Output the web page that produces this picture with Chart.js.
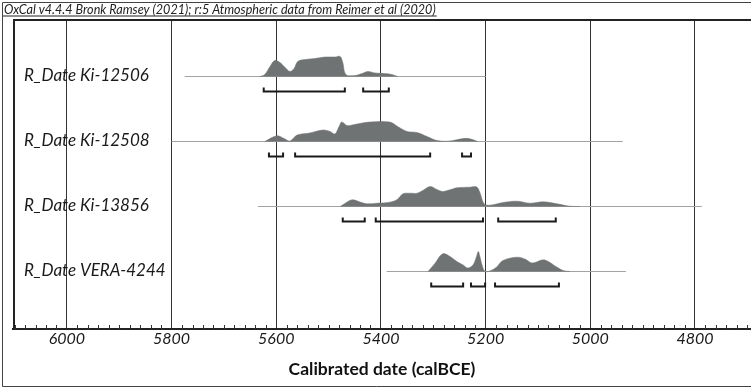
<!DOCTYPE html>
<html>
<head>
<meta charset="utf-8">
<script src="https://cdn.jsdelivr.net/npm/chart.js@4.4.0/dist/chart.umd.min.js"></script>
<style>
  html, body { margin: 0; padding: 0; background: #fff; }
  #wrap { width: 751px; height: 388px; position: relative; }
</style>
</head>
<body>
<div id="wrap"><canvas id="chart"></canvas></div>
<script>
// OxCal multiplot: calibrated R_Date distributions (years calBCE)
const plotTitle = 'OxCal v4.4.4 Bronk Ramsey (2021); r:5 Atmospheric data from Reimer et al (2020)';
const rowLabels = ['R_Date Ki-12506', 'R_Date Ki-12508', 'R_Date Ki-13856', 'R_Date VERA-4244'];

// extent of the thin baseline for each date
const rangeFrom = [5775, 5800, 5635, 5389];
const rangeTo = [5200, 4938, 4787, 4932];

// probability curves (year, relative height)
const yrs12506 = [5631, 5622, 5612, 5603, 5593, 5583, 5574, 5566, 5559, 5545, 5526, 5507, 5488, 5478, 5473, 5467, 5450, 5436, 5425, 5411, 5394, 5379, 5368];
const p12506 = [0, 2, 10, 16, 14, 9, 5, 8, 15, 17, 18, 19.5, 19.5, 20, 14, 2, 1, 3, 5, 3.5, 3, 2, 0];

const yrs12508 = [5622, 5599, 5585, 5574, 5560, 5536, 5511, 5497, 5488, 5480, 5475, 5465, 5455, 5446, 5421, 5383, 5368, 5350, 5331, 5312, 5293, 5268, 5243, 5230, 5215];
const p12508 = [0, 5.7, 3, 0.5, 6.5, 8.5, 11.5, 10, 7.5, 15, 19.5, 16, 16.5, 17.5, 19.5, 19.5, 15, 10, 9, 5, 1, 0.5, 3, 2.7, 0];

const yrs13856 = [5478, 5469, 5455, 5440, 5427, 5408, 5383, 5369, 5358, 5345, 5331, 5320, 5306, 5293, 5282, 5268, 5255, 5230, 5217, 5211, 5203, 5192, 5167, 5140, 5115, 5090, 5064, 5039, 5020];
const p13856 = [0, 3, 6.7, 4.5, 2.7, 3.3, 4.3, 7, 12.7, 13.3, 13.3, 16, 20, 17, 15, 16.7, 18.7, 19.3, 19.5, 14, 2.7, 1.3, 4, 5.3, 3.3, 4.7, 2.7, 0.3, 0];

const yrs4244 = [5310, 5297, 5282, 5268, 5255, 5243, 5234, 5224, 5218, 5214, 5211, 5206, 5201, 5192, 5180, 5167, 5140, 5125, 5111, 5090, 5077, 5068, 5052, 5039];
const p4244 = [0, 8, 17.7, 15, 10, 6.5, 3.5, 6.7, 14, 20, 15, 5, 0, 0.5, 4, 11, 14.3, 12.5, 8.5, 11.7, 9, 5.7, 1, 0];

// 95.4% ranges [from, to]
const hpd12506 = [[5624, 5469], [5434, 5385]];
const hpd12508 = [[5614, 5587], [5564, 5306], [5245, 5228]];
const hpd13856 = [[5473, 5431], [5410, 5205], [5176, 5066]];
const hpd4244 = [[5304, 5243], [5228, 5201], [5182, 5060]];

// axis ticks
const xTicks = [4800, 5000, 5200, 5400, 5600, 5800, 6000];
const xMinorStep = 20;

const curves = [
  { yrs: yrs12506, p: p12506, hpd: hpd12506 },
  { yrs: yrs12508, p: p12508, hpd: hpd12508 },
  { yrs: yrs13856, p: p13856, hpd: hpd13856 },
  { yrs: yrs4244, p: p4244, hpd: hpd4244 }
];

// layout (y axis units ~ pixels above the x axis)
const ROW_BASE = [252.5, 187.5, 122.5, 57.5];
const BRACKET_DROP = 15;
const BRACKET_TICK = 4;
const FILL = '#6f7373';

const datasets = [];
curves.forEach((c, i) => {
  const base = ROW_BASE[i];
  datasets.push({
    data: [{ x: rangeFrom[i], y: base }, { x: rangeTo[i], y: base }],
    borderColor: '#a3a3a3', borderWidth: 1, pointRadius: 0, order: 3
  });
  datasets.push({
    data: c.yrs.map((x, j) => ({ x, y: base + c.p[j] })),
    borderColor: FILL, backgroundColor: FILL, borderWidth: 0.5,
    fill: { value: base }, tension: 0.35, pointRadius: 0, order: 2
  });
  const by = base - BRACKET_DROP;
  const pts = [];
  c.hpd.forEach(([a, b]) => {
    pts.push({ x: a, y: by + BRACKET_TICK }, { x: a, y: by }, { x: b, y: by }, { x: b, y: by + BRACKET_TICK }, { x: b, y: null });
  });
  datasets.push({
    data: pts, borderColor: '#1a1a1a', borderWidth: 2, pointRadius: 0,
    spanGaps: false, tension: 0, order: 1
  });
});

const decor = {
  id: 'decor',
  afterDraw(chart) {
    const { ctx, chartArea: a, scales } = chart;
    const x = scales.x, y = scales.y;
    ctx.save();
    // outer border
    ctx.strokeStyle = '#444';
    ctx.lineWidth = 1;
    ctx.beginPath();
    ctx.moveTo(chart.width, 2.5); ctx.lineTo(2.5, 2.5); ctx.lineTo(2.5, 386.5); ctx.lineTo(chart.width, 386.5);
    ctx.stroke();
    // plot frame
    ctx.strokeStyle = '#222';
    ctx.lineWidth = 2;
    ctx.beginPath();
    ctx.moveTo(a.left + 1, a.bottom); ctx.lineTo(a.left + 1, a.top + 1); ctx.lineTo(a.right, a.top + 1);
    ctx.stroke();
    // minor ticks
    ctx.lineWidth = 1;
    ctx.strokeStyle = '#333';
    for (let v = Math.ceil(x.min / xMinorStep) * xMinorStep; v <= x.max; v += xMinorStep) {
      if (xTicks.includes(v)) continue;
      const px = Math.round(x.getPixelForValue(v)) + 0.5;
      ctx.beginPath(); ctx.moveTo(px, a.bottom); ctx.lineTo(px, a.bottom - 4); ctx.stroke();
    }
    // title
    ctx.fillStyle = '#222';
    ctx.font = 'italic 12.6px Lato';
    ctx.textBaseline = 'alphabetic';
    ctx.fillText(plotTitle, 4, 14);
    const w = ctx.measureText(plotTitle).width;
    ctx.fillRect(3, 15.5, w + 2, 1);
    // row labels
    ctx.font = 'italic 17px Lato';
    ctx.fillStyle = '#1a1a1a';
    ctx.textBaseline = 'middle';
    rowLabels.forEach((t, i) => ctx.fillText(t, 24, y.getPixelForValue(ROW_BASE[i]) - 1));
    ctx.restore();
  }
};

new Chart(document.getElementById('chart'), {
  type: 'line',
  data: { datasets },
  plugins: [decor],
  options: {
    responsive: true,
    maintainAspectRatio: false,
    animation: false,
    layout: { padding: { left: 13, top: 19, right: 0, bottom: 0 } },
    plugins: { legend: { display: false }, tooltip: { enabled: false } },
    scales: {
      x: {
        type: 'linear', reverse: true, min: 4693, max: 6103, z: 1,
        afterBuildTicks: s => { s.ticks = xTicks.map(v => ({ value: v })); },
        afterFit: s => { s.height = 59; },
        ticks: {
          autoSkip: false, maxRotation: 0, padding: 0,
          color: '#1a1a1a', font: { family: 'Lato', style: 'italic', size: 16 },
          callback: v => String(v)
        },
        grid: { drawTicks: false, lineWidth: 1, color: '#333' },
        border: { display: true, color: '#222', width: 2 },
        title: {
          display: true, text: 'Calibrated date (calBCE)', color: '#111',
          font: { family: 'Lato', weight: 'bold', size: 17.5 },
          padding: { top: 0, bottom: 8 }
        }
      },
      y: { type: 'linear', display: false, min: 0, max: 310 }
    }
  }
});
</script>
</body>
</html>
